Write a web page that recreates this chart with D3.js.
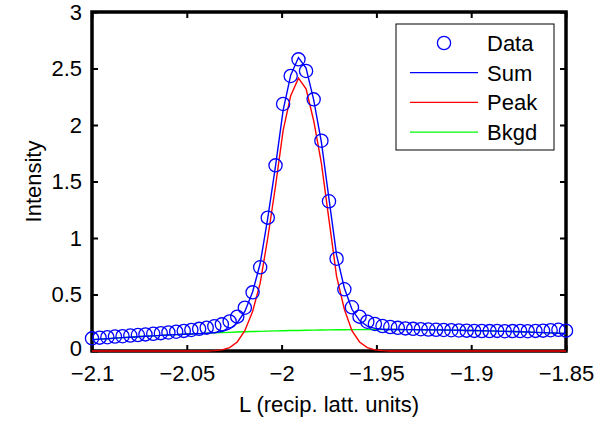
<!doctype html>
<html>
<head>
<meta charset="UTF-8" />
<script src="https://d3js.org/d3.v7.min.js"></script>
<style>
	body { margin: 0; background: #fff; }
	svg text { font-family: "Liberation Sans", Arial, Helvetica, sans-serif; }
</style>
</head>
<body>
<svg id="chart"></svg>
<script>
(function () {
	"use strict";

	// L positions of the scan points (recip. latt. units)
	const L = [
		-2.1000, -2.0960, -2.0919, -2.0879, -2.0839, -2.0798, -2.0758, -2.0718, -2.0677, -2.0637,
		-2.0597, -2.0556, -2.0516, -2.0476, -2.0435, -2.0395, -2.0355, -2.0315, -2.0274, -2.0234,
		-2.0194, -2.0153, -2.0113, -2.0073, -2.0032, -1.9992, -1.9952, -1.9911, -1.9871, -1.9831,
		-1.9790, -1.9750, -1.9710, -1.9669, -1.9629, -1.9589, -1.9548, -1.9508, -1.9468, -1.9427,
		-1.9387, -1.9347, -1.9306, -1.9266, -1.9226, -1.9185, -1.9145, -1.9105, -1.9065, -1.9024,
		-1.8984, -1.8944, -1.8903, -1.8863, -1.8823, -1.8782, -1.8742, -1.8702, -1.8661, -1.8621,
		-1.8581, -1.8540, -1.8500
	];

	// measured intensity
	const data = [
		0.112, 0.118, 0.122, 0.128, 0.131, 0.137, 0.141, 0.147, 0.152, 0.158,
		0.164, 0.171, 0.178, 0.186, 0.196, 0.206, 0.219, 0.236, 0.262, 0.304,
		0.383, 0.519, 0.741, 1.180, 1.643, 2.186, 2.434, 2.581, 2.478, 2.227,
		1.861, 1.325, 0.817, 0.546, 0.387, 0.304, 0.259, 0.239, 0.221, 0.212,
		0.205, 0.200, 0.196, 0.193, 0.190, 0.188, 0.186, 0.184, 0.182, 0.180,
		0.178, 0.177, 0.176, 0.178, 0.175, 0.176, 0.177, 0.175, 0.178, 0.180,
		0.184, 0.188, 0.180
	];

	// fitted background
	const bkgd = [
		0.100, 0.105, 0.109, 0.114, 0.118, 0.122, 0.126, 0.130, 0.134, 0.138,
		0.141, 0.145, 0.148, 0.151, 0.154, 0.157, 0.160, 0.163, 0.165, 0.168,
		0.170, 0.172, 0.174, 0.176, 0.178, 0.179, 0.181, 0.182, 0.184, 0.185,
		0.186, 0.187, 0.188, 0.188, 0.189, 0.189, 0.190, 0.190, 0.190, 0.190,
		0.190, 0.189, 0.189, 0.188, 0.188, 0.187, 0.186, 0.185, 0.184, 0.182,
		0.181, 0.179, 0.178, 0.176, 0.174, 0.172, 0.170, 0.168, 0.165, 0.163,
		0.160, 0.157, 0.154
	];

	// fitted peak
	const peak = [
		0, 0, 0, 0, 0, 0, 0, 0, 0, 0,
		0, 0, 0, 0, 0, 0, 0.003, 0.010, 0.030, 0.080,
		0.180, 0.350, 0.600, 1.000, 1.460, 1.950, 2.260, 2.415, 2.320, 2.040,
		1.660, 1.160, 0.660, 0.370, 0.180, 0.080, 0.030, 0.010, 0.003, 0,
		0, 0, 0, 0, 0, 0, 0, 0, 0, 0,
		0, 0, 0, 0, 0, 0, 0, 0, 0, 0,
		0, 0, 0
	];

	// fitted sum (peak + bkgd)
	const sum = [
		0.100, 0.105, 0.109, 0.114, 0.118, 0.122, 0.126, 0.130, 0.134, 0.138,
		0.141, 0.145, 0.148, 0.151, 0.154, 0.157, 0.163, 0.173, 0.195, 0.248,
		0.350, 0.522, 0.774, 1.176, 1.638, 2.129, 2.441, 2.597, 2.504, 2.225,
		1.846, 1.347, 0.848, 0.558, 0.369, 0.269, 0.220, 0.200, 0.193, 0.190,
		0.190, 0.189, 0.189, 0.188, 0.188, 0.187, 0.186, 0.185, 0.184, 0.182,
		0.181, 0.179, 0.178, 0.176, 0.174, 0.172, 0.170, 0.168, 0.165, 0.163,
		0.160, 0.157, 0.154
	];

	const xTicks = [-2.1, -2.05, -2, -1.95, -1.9, -1.85];
	const yTicks = [0, 0.5, 1, 1.5, 2, 2.5, 3];

	const legendNames = ["Data", "Sum", "Peak", "Bkgd"];
	const legendColors = ["#0000ff", "#0000ff", "#ff0000", "#00ff00"];

	const W = 605, H = 422;
	const margin = { top: 12, right: 39, bottom: 71, left: 92 };
	const width = W - margin.left - margin.right;
	const height = H - margin.top - margin.bottom;
	const fontSize = 22;

	const svg = d3.select("#chart").attr("width", W).attr("height", H);
	svg.append("rect").attr("width", W).attr("height", H).attr("fill", "#fff");

	const g = svg.append("g").attr("transform", "translate(" + margin.left + "," + margin.top + ")");

	const x = d3.scaleLinear().domain([-2.1, -1.85]).range([0, width]);
	const y = d3.scaleLinear().domain([0, 3]).range([height, 0]);

	const fmt = function (d) { return d3.format("")(d).replace("-", "\u2212"); };

	// axes, ticks pointing inward on all four sides
	const axB = g.append("g").attr("transform", "translate(0," + height + ")")
		.call(d3.axisBottom(x).tickValues(xTicks).tickSize(-6).tickPadding(14).tickFormat(fmt));
	const axT = g.append("g")
		.call(d3.axisTop(x).tickValues(xTicks).tickSize(-6).tickFormat(""));
	const axL = g.append("g")
		.call(d3.axisLeft(y).tickValues(yTicks).tickSize(-6).tickPadding(10).tickFormat(d3.format("")));
	const axR = g.append("g").attr("transform", "translate(" + width + ",0)")
		.call(d3.axisRight(y).tickValues(yTicks).tickSize(-6).tickFormat(""));

	[axB, axT, axL, axR].forEach(function (a) {
		a.select(".domain").remove();
		a.selectAll(".tick line").attr("stroke", "#000").attr("stroke-width", 2);
		a.selectAll("text").attr("font-size", fontSize).attr("fill", "#000")
			.attr("font-family", "'Liberation Sans', Arial, Helvetica, sans-serif");
	});

	// the "0" label sits a touch higher so it clears the −2.1 label below
	axL.selectAll(".tick text").filter(function (d) { return d === 0; }).attr("dy", "0.2em");

	// box
	g.append("rect")
		.attr("width", width).attr("height", height)
		.attr("fill", "none").attr("stroke", "#000").attr("stroke-width", 3.5);

	// curves
	const lineOf = function (arr) {
		return d3.line().x(function (d, i) { return x(L[i]); }).y(function (d) { return y(d); })(arr);
	};

	g.append("path").attr("d", lineOf(bkgd)).attr("fill", "none").attr("stroke", "#00ff00").attr("stroke-width", 1.4);
	g.append("path").attr("d", lineOf(peak)).attr("fill", "none").attr("stroke", "#ff0000").attr("stroke-width", 1.4);
	g.append("path").attr("d", lineOf(sum)).attr("fill", "none").attr("stroke", "#0000ff").attr("stroke-width", 1.4);

	// data circles
	g.selectAll("circle.pt")
		.data(data)
		.enter().append("circle")
		.attr("class", "pt")
		.attr("cx", function (d, i) { return x(L[i]); })
		.attr("cy", function (d) { return y(d); })
		.attr("r", 6.6)
		.attr("fill", "none")
		.attr("stroke", "#0000ff")
		.attr("stroke-width", 1.3);

	// axis labels
	svg.append("text")
		.attr("x", margin.left + width / 2)
		.attr("y", 412)
		.attr("text-anchor", "middle")
		.attr("font-size", fontSize)
		.text("L (recip. latt. units)");

	svg.append("text")
		.attr("transform", "translate(41," + (margin.top + height / 2) + ") rotate(-90)")
		.attr("text-anchor", "middle")
		.attr("font-size", fontSize)
		.text("Intensity");

	// legend
	const leg = svg.append("g").attr("transform", "translate(396,24)");
	leg.append("rect")
		.attr("width", 158).attr("height", 126)
		.attr("fill", "#fff").attr("stroke", "#000").attr("stroke-width", 1);

	const rows = leg.selectAll("g.row")
		.data(legendNames)
		.enter().append("g")
		.attr("class", "row")
		.attr("transform", function (d, i) { return "translate(0," + (19 + i * 29.7) + ")"; });

	rows.each(function (d, i) {
		const r = d3.select(this);
		if (i === 0) {
			r.append("circle").attr("cx", 48).attr("cy", 0).attr("r", 6.6)
				.attr("fill", "none").attr("stroke", legendColors[i]).attr("stroke-width", 1.3);
		} else {
			r.append("line").attr("x1", 14).attr("x2", 82).attr("y1", 0).attr("y2", 0)
				.attr("stroke", legendColors[i]).attr("stroke-width", 1.2);
		}
		r.append("text").attr("x", 91).attr("y", 0).attr("dy", "0.36em")
			.attr("font-size", fontSize).text(d);
	});
})();
</script>
</body>
</html>
